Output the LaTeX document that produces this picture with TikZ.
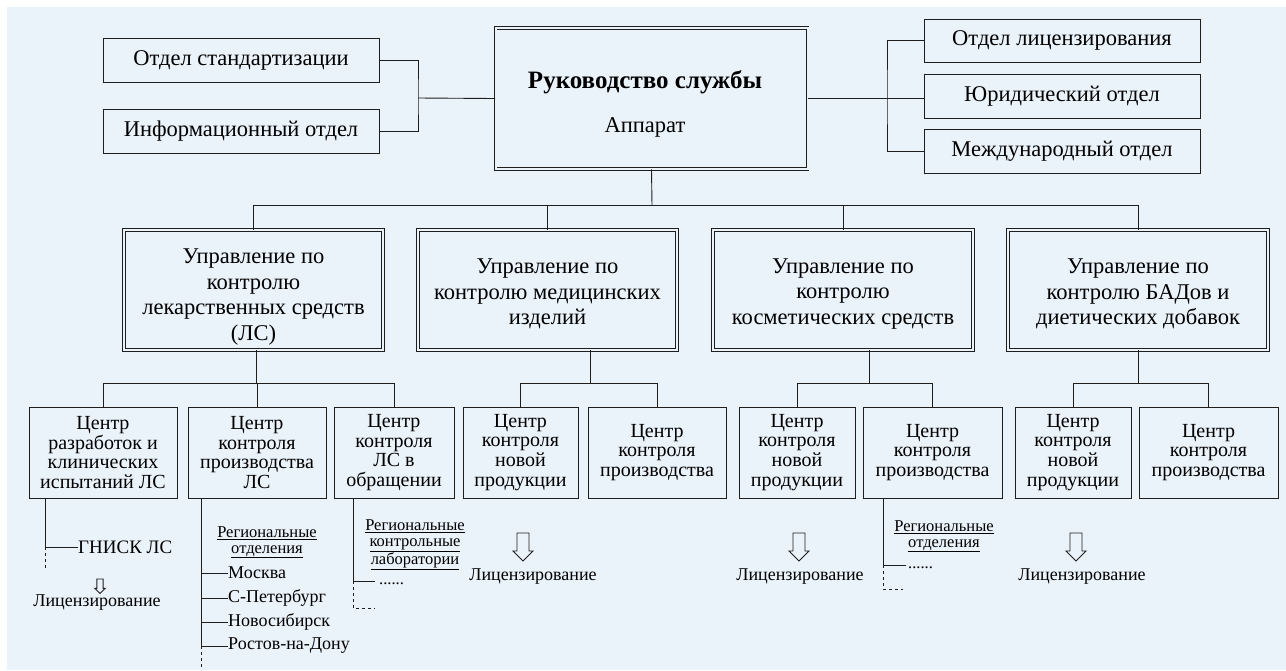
\documentclass[tikz,border=0pt]{standalone}
\usepackage{fontspec}
\setmainfont{Liberation Serif}
\definecolor{bgc}{RGB}{234,242,250}
\definecolor{ln}{RGB}{30,30,30}
\tikzset{
  harrow/.pic={\draw[ln, line width=0.9pt, fill=bgc] (-6,0) -- (6,0) -- (6,18) -- (10,18) -- (0,28) -- (-10,18) -- (-6,18) -- cycle;}
}
\begin{document}
\begin{tikzpicture}[x=1pt,y=-1pt,
  box/.style={draw=ln, line width=1pt, fill=bgc, inner sep=0pt, align=center, font=\fontsize{22.5}{25}\selectfont},
  dbox/.style={draw=ln, line width=0.9pt, double=bgc, double distance=2pt, inner sep=0pt},
  utext/.style={inner sep=0pt, align=center, font=\fontsize{22.5}{25.5}\selectfont},
  cbox/.style={draw=ln, line width=1pt, inner sep=0pt, align=center, minimum height=91pt, font=\fontsize{20}{19.8}\selectfont},
  conn/.style={draw=ln, line width=0.9pt},
  dconn/.style={conn, dash pattern=on 3pt off 3pt},
  lbl/.style={inner sep=0pt, font=\fontsize{18}{20}\selectfont},
  reg/.style={inner sep=0pt, align=center, font=\fontsize{16.5}{15.5}\selectfont},
]
\useasboundingbox (0,0) rectangle (1286,670);
\path[fill=white] (0,0) rectangle (1286,670);
\path[fill=bgc] (7,7) rectangle (1286,670);

% top row
\node[box, minimum width=276pt, minimum height=44pt] (std) at (241,60) {Отдел стандартизации};
\node[box, minimum width=276pt, minimum height=44pt] (inf) at (241,131) {Информационный отдел};
\node[dbox, minimum width=312pt, minimum height=141pt] (main) at (651.5,98.5) {};
\node[inner sep=0pt, font=\bfseries\fontsize{25}{28}\selectfont] (mainT) at (645,82) {Руководство службы};
\node[inner sep=0pt, font=\fontsize{22.5}{25}\selectfont] (mainA) at (645,127) {Аппарат};
\node[box, minimum width=276pt, minimum height=43pt] (lic) at (1062,40.5) {Отдел лицензирования};
\node[box, minimum width=276pt, minimum height=44pt] (jur) at (1062,96) {Юридический отдел};
\node[box, minimum width=276pt, minimum height=44pt] (intl) at (1062,151) {Международный отдел};

\coordinate (lj) at (418,98);
\coordinate (rj) at (887,98);
\draw[conn] (std.east) -| (lj) |- (inf.east);
\draw[conn] (lj) -- (main.west);
\draw[conn] (main.east) -- (jur.west |- main.east);
\draw[conn] (lic.west) -| (rj) |- (intl.west);

% second row
\node[dbox, minimum width=259pt, minimum height=120pt] (u1) at (253.5,290) {};
\node[dbox, minimum width=259pt, minimum height=120pt] (u2) at (547.5,290) {};
\node[dbox, minimum width=260pt, minimum height=120pt] (u3) at (843,290) {};
\node[dbox, minimum width=260pt, minimum height=120pt] (u4) at (1138,290) {};
\node[utext] (u1t) at (253.5,297) {Управление по\\контролю\\лекарственных средств\\(ЛС)};
\node[utext] (u2t) at (547.5,294) {Управление по\\контролю медицинских\\изделий};
\node[utext] (u3t) at (843,294) {Управление по\\контролю\\косметических средств};
\node[utext] (u4t) at (1138,294) {Управление по\\контролю БАДов и\\диетических добавок};

\coordinate (bus) at (652,205);
\draw[conn] (main.south) -- (bus);
\draw[conn] (u1.north) -- (u1.north |- bus) -- (u4.north |- bus) -- (u4.north);
\draw[conn] (u2.north) -- (u2.north |- bus);
\draw[conn] (u3.north) -- (u3.north |- bus);

% third row
\node[cbox, minimum width=148pt] (cA) at (103,452.5) {Центр\\разработок и\\клинических\\испытаний ЛС};
\node[cbox, minimum width=138pt] (cB) at (257,452.5) {Центр\\контроля\\производства\\ЛС};
\node[cbox, minimum width=120pt] (cC) at (394,452.5) {Центр\\контроля\\ЛС в\\обращении};
\node[cbox, minimum width=115pt] (cD) at (520.5,452.5) {Центр\\контроля\\новой\\продукции};
\node[cbox, minimum width=138pt] (cE) at (657,452.5) {Центр\\контроля\\производства};
\node[cbox, minimum width=116pt] (cF) at (797,452.5) {Центр\\контроля\\новой\\продукции};
\node[cbox, minimum width=139pt] (cG) at (932.5,452.5) {Центр\\контроля\\производства};
\node[cbox, minimum width=116pt] (cH) at (1073,452.5) {Центр\\контроля\\новой\\продукции};
\node[cbox, minimum width=139pt] (cI) at (1208.5,452.5) {Центр\\контроля\\производства};

\coordinate (s1) at (256,383);
\coordinate (s2) at (590,383);
\coordinate (s3) at (869,383);
\coordinate (s4) at (1138,383);
\draw[conn] (s1 |- u1.south) -- (s1);
\draw[conn] (s2 |- u2.south) -- (s2);
\draw[conn] (s3 |- u3.south) -- (s3);
\draw[conn] (s4 |- u4.south) -- (s4);
\draw[conn] (cA.north) -- (cA.north |- s1) -- (cC.north |- s1) -- (cC.north);
\draw[conn] (cB.north) -- (cB.north |- s1);
\draw[conn] (cD.north) -- (cD.north |- s2) -- (cE.north |- s2) -- (cE.north);
\draw[conn] (cF.north) -- (cF.north |- s3) -- (cG.north |- s3) -- (cG.north);
\draw[conn] (cH.north) -- (cH.north |- s4) -- (cI.north |- s4) -- (cI.north);

% under cA
\coordinate (aJ) at (45,547);
\coordinate (aE) at (45,570);
\node[lbl, anchor=west, font=\fontsize{19}{20}\selectfont] (gnisk) at (78,547) {ГНИСК ЛС};
\draw[conn] (cA.south -| aJ) -- (aJ) -- (gnisk.west);
\draw[dconn] (aJ) -- (aE);
\pic[scale=0.52] at (100,579) {harrow};
\node[lbl] (licA) at (97,603) {Лицензирование};

% under cB
\coordinate (bE) at (201,646);
\coordinate (bD) at (201,667);
\node[reg] (regB) at (267,542.5) {\underline{Региональные}\\\underline{отделения}};
\node[lbl, anchor=west] (msk) at (228,573) {Москва};
\node[lbl, anchor=west] (spb) at (228,598) {С-Петербург};
\node[lbl, anchor=west] (nsk) at (228,622) {Новосибирск};
\node[lbl, anchor=west] (rnd) at (228,646) {Ростов-на-Дону};
\draw[conn] (cB.south -| bE) -- (bE);
\draw[dconn] (bE) -- (bD);
\draw[conn] (msk.west -| bE) -- (msk.west);
\draw[conn] (spb.west -| bE) -- (spb.west);
\draw[conn] (nsk.west -| bE) -- (nsk.west);
\draw[conn] (rnd.west -| bE) -- (rnd.west);

% under cC
\coordinate (cJ) at (353,581);
\coordinate (cJr) at (375,581);
\coordinate (cDn) at (353,608);
\coordinate (cDr) at (375,608);
\node[reg] (regC) at (415,545) {\underline{Региональные}\\\underline{контрольные}\\\underline{лаборатории}};
\draw[conn] (cC.south -| cJ) -- (cJ) -- (cJr);
\draw[dconn] (cJ) -- (cDn) -- (cDr);
\node[reg, anchor=west] (dotsC) at (379,584) {......};

% under cD, cF, cH
\pic at (523,533) {harrow};
\node[lbl] (licD) at (533,577) {Лицензирование};
\pic at (799,533) {harrow};
\node[lbl] (licF) at (800,577) {Лицензирование};
\pic at (1076,533) {harrow};
\node[lbl] (licH) at (1082,577) {Лицензирование};

% under cG
\coordinate (gJ) at (883,565);
\coordinate (gJr) at (906,565);
\coordinate (gDn) at (883,589);
\coordinate (gDr) at (903,589);
\node[reg] (regG) at (944,536.5) {\underline{Региональные}\\\underline{отделения}};
\draw[conn] (cG.south -| gJ) -- (gJ) -- (gJr);
\draw[dconn] (gJ) -- (gDn) -- (gDr);
\node[reg, anchor=west] (dotsG) at (908,568) {......};
\end{tikzpicture}
\end{document}
